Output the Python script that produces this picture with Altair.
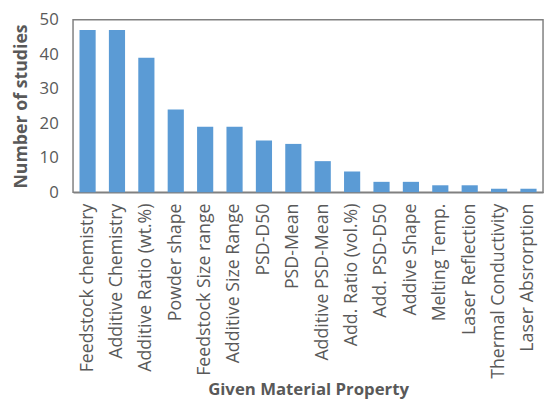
import altair as alt
import pandas as pd

categories = ["Feedstock chemistry", "Additive Chemistry", "Additive Ratio (wt.%)",
              "Powder shape", "Feedstock Size range", "Additive Size Range",
              "PSD-D50", "PSD-Mean", "Additive PSD-Mean", "Add. Ratio (vol.%)",
              "Add. PSD-D50", "Addive Shape", "Melting Temp.", "Laser Reflection",
              "Thermal Conductivity", "Laser Absrorption"]
counts = [47, 47, 39, 24, 19, 19, 15, 14, 9, 6, 3, 3, 2, 2, 1, 1]

df = pd.DataFrame({"prop": categories, "n": counts})

FONT = "Open Sans"
GRAY = "#595959"

chart = alt.Chart(df).mark_bar(color="#5B9BD5").encode(
    x=alt.X("prop:N", sort=categories,
            scale=alt.Scale(paddingInner=0.45, paddingOuter=0.22),
            axis=alt.Axis(title="Given Material Property", labelAngle=270,
                          labelAlign="right", labelBaseline="middle",
                          labelFontSize=18, labelColor=GRAY, labelFont=FONT,
                          labelPadding=11, ticks=False, labelLimit=300,
                          titleFont=FONT, titleFontSize=17, titleColor=GRAY,
                          titleFontWeight="bold", titlePadding=3,
                          domainColor="#808080", domainWidth=1.5)),
    y=alt.Y("n:Q", scale=alt.Scale(domain=[0, 50]),
            axis=alt.Axis(title="Number of studies", values=[0, 10, 20, 30, 40, 50],
                          grid=False, ticks=False, domain=False,
                          labelFontSize=17, labelColor=GRAY, labelFont=FONT,
                          labelPadding=15,
                          titleFont=FONT, titleFontSize=18, titleColor=GRAY,
                          titleFontWeight="bold", titlePadding=9)),
).properties(
    width=477, height=175,
    autosize=alt.AutoSizeParams(type="none"),
    padding={"left": 66, "top": 9, "right": 2, "bottom": 209},
).configure_view(stroke="#808080", strokeWidth=1.5)

chart.save("out.html", embed_options={"renderer": "svg", "actions": False})
